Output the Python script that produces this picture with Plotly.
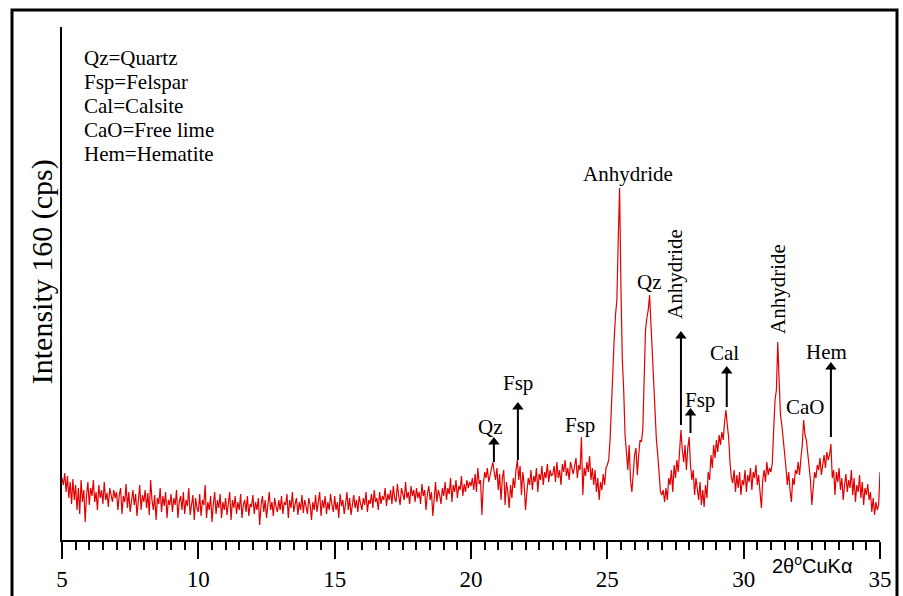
import numpy as np
import plotly.graph_objects as go

# 2-theta scan from 5 to 35 degrees, 0.05 degree step
start_2theta = 5.0
step_2theta = 0.05

# intensity (arbitrary units) per degree, 20 readings per degree
i05 = [62, 55, 67, 48, 64, 42, 58, 36, 61, 40, 55, 30, 52, 26, 60, 38, 50, 18, 45, 58]
i06 = [35, 52, 44, 60, 38, 48, 30, 55, 42, 50, 36, 58, 40, 47, 33, 52, 45, 38, 50, 42]
i07 = [48, 30, 45, 52, 26, 44, 38, 56, 32, 48, 28, 42, 50, 35, 46, 24, 40, 55, 30, 45]
i08 = [38, 50, 32, 47, 25, 60, 40, 30, 45, 20, 42, 36, 52, 28, 44, 34, 48, 22, 40, 35]
i09 = [46, 28, 42, 35, 50, 22, 38, 44, 30, 48, 26, 40, 34, 52, 25, 38, 45, 20, 42, 32]
i10 = [28, 46, 24, 40, 35, 55, 22, 38, 30, 44, 18, 36, 48, 26, 40, 32, 46, 22, 38, 30]
i11 = [42, 25, 36, 48, 20, 40, 32, 44, 26, 38, 30, 46, 22, 35, 40, 28, 44, 24, 36, 33]
i12 = [45, 26, 38, 30, 42, 15, 35, 44, 28, 40, 22, 36, 48, 30, 38, 24, 42, 33, 28, 40]
i13 = [30, 44, 26, 38, 35, 46, 22, 40, 32, 48, 28, 36, 42, 25, 38, 30, 45, 27, 40, 34]
i14 = [26, 42, 35, 20, 38, 30, 45, 28, 36, 48, 24, 40, 32, 44, 26, 38, 30, 46, 35, 28]
i15 = [44, 30, 38, 22, 46, 34, 40, 26, 36, 48, 30, 42, 25, 38, 45, 32, 40, 28, 44, 36]
i16 = [30, 42, 35, 48, 28, 40, 36, 46, 32, 50, 38, 42, 30, 48, 36, 44, 40, 52, 34, 46]
i17 = [40, 50, 36, 54, 42, 38, 56, 44, 35, 52, 46, 40, 58, 42, 48, 36, 54, 44, 50, 38]
i18 = [52, 42, 48, 36, 56, 44, 50, 30, 46, 54, 40, 48, 24, 44, 58, 38, 50, 45, 36, 52]
i19 = [44, 58, 40, 52, 46, 62, 38, 55, 48, 60, 42, 54, 50, 64, 44, 56, 48, 60, 52, 58]
i20 = [54, 62, 50, 66, 48, 72, 56, 60, 25, 55, 68, 62, 72, 58, 66, 70, 78, 68, 60, 72]
i21 = [50, 66, 40, 62, 70, 35, 58, 48, 32, 55, 42, 62, 52, 70, 80, 60, 74, 45, 68, 55]
i22 = [30, 48, 62, 55, 70, 50, 64, 58, 72, 48, 66, 60, 74, 55, 68, 62, 76, 58, 70, 64]
i23 = [66, 74, 58, 78, 62, 70, 55, 76, 68, 80, 64, 72, 60, 78, 70, 66, 74, 82, 62, 75]
i24 = [70, 103, 45, 72, 64, 78, 68, 84, 60, 72, 55, 70, 48, 62, 40, 58, 50, 66, 55, 72]
i25 = [75, 80, 100, 140, 165, 200, 225, 240, 300, 352, 250, 180, 150, 105, 88, 70, 95, 60, 48, 70]
i26 = [85, 92, 65, 85, 100, 98, 110, 160, 210, 222, 230, 245, 215, 190, 160, 127, 100, 85, 60, 48]
i27 = [45, 50, 38, 52, 40, 62, 55, 70, 48, 75, 62, 80, 68, 85, 110, 90, 78, 95, 70, 92]
i28 = [103, 75, 60, 70, 45, 62, 52, 40, 58, 35, 50, 33, 55, 42, 68, 60, 85, 72, 95, 82]
i29 = [100, 88, 105, 95, 108, 100, 118, 130, 115, 102, 77, 62, 57, 70, 48, 65, 52, 68, 45, 60]
i30 = [55, 70, 48, 65, 58, 72, 50, 68, 62, 75, 55, 65, 48, 32, 60, 70, 58, 78, 65, 72]
i31 = [68, 77, 110, 140, 150, 198, 160, 125, 115, 103, 85, 73, 55, 68, 50, 38, 62, 55, 70, 66]
i32 = [78, 65, 82, 95, 120, 105, 100, 85, 72, 60, 35, 55, 68, 62, 75, 70, 82, 65, 78, 85]
i33 = [72, 88, 80, 85, 96, 62, 70, 45, 68, 58, 72, 50, 62, 40, 55, 66, 48, 60, 52, 70]
i34 = [45, 62, 38, 55, 48, 65, 42, 58, 35, 52, 45, 56, 40, 48, 28, 42, 25, 38, 30, 35]
i35 = [68]

intensity = (i05 + i06 + i07 + i08 + i09 + i10 + i11 + i12 + i13 + i14 + i15 + i16
             + i17 + i18 + i19 + i20 + i21 + i22 + i23 + i24 + i25 + i26 + i27 + i28
             + i29 + i30 + i31 + i32 + i33 + i34 + i35)
two_theta = [round(start_2theta + k * step_2theta, 2) for k in range(len(intensity))]

# phase labels: text, 2theta, height, angle
label_text = ["Anhydride", "Qz", "Anhydride", "Fsp", "Cal", "Anhydride", "CaO", "Hem", "Qz", "Fsp", "Fsp"]
label_x = [25.76, 26.56, 27.48, 28.40, 29.28, 31.26, 32.25, 33.05, 20.70, 21.72, 24.0]
label_y = [366, 258, 266, 140, 187, 251, 133, 188, 113, 157, 115]
label_angle = [0, 0, -90, 0, 0, -90, 0, 0, 0, 0, 0]

# arrows: 2theta, tail height, tip height
arrow_x = [20.84, 21.72, 27.70, 28.05, 29.38, 33.20]
arrow_tail = [78, 80, 115, 107, 133, 103]
arrow_tip = [103, 138, 209, 132, 174, 178]

key_lines = ["Qz=Quartz", "Fsp=Felspar", "Cal=Calsite", "CaO=Free lime", "Hem=Hematite"]

x_ticks = [5, 10, 15, 20, 25, 30, 35]

SERIF = "Liberation Serif, Times New Roman, serif"
HEAD = 5  # half height of arrowhead marker (y units == px here)

fig = go.Figure()
fig.add_trace(go.Scatter(x=two_theta, y=intensity, mode="lines",
                         line=dict(color="rgb(226,0,0)", width=1.2),
                         showlegend=False, hoverinfo="skip"))

# arrow shafts
sx, sy = [], []
for x, t0, t1 in zip(arrow_x, arrow_tail, arrow_tip):
    sx += [x, x, None]
    sy += [t0, t1 - HEAD, None]
fig.add_trace(go.Scatter(x=sx, y=sy, mode="lines", line=dict(color="black", width=2),
                         showlegend=False, hoverinfo="skip"))
# arrowheads
fig.add_trace(go.Scatter(x=arrow_x, y=[t - HEAD for t in arrow_tip], mode="markers",
                         marker=dict(symbol="triangle-up", size=10, color="black",
                                     line=dict(width=0)),
                         showlegend=False, hoverinfo="skip"))

ann = []
for t, x, y, a in zip(label_text, label_x, label_y, label_angle):
    ann.append(dict(x=x, y=y, xref="x", yref="y", text=t, showarrow=False,
                    textangle=a, font=dict(family=SERIF, size=21, color="black"),
                    xanchor="center", yanchor="middle"))
for k, line in enumerate(key_lines):
    ann.append(dict(x=0.0244, y=(540 - (58 + 24 * k)) / 513, xref="paper", yref="paper",
                    text=line, showarrow=False, xanchor="left", yanchor="middle",
                    font=dict(family=SERIF, size=21, color="black")))
ann.append(dict(x=-0.0244, y=0.522, xref="paper", yref="paper",
                text="Intensity 160 (cps)", showarrow=False, textangle=-90,
                xanchor="center", yanchor="middle",
                font=dict(family=SERIF, size=30, color="black")))
ann.append(dict(x=0.917, y=-0.0487, xref="paper", yref="paper",
                text="2θ<sup>o</sup>CuKα", showarrow=False,
                xanchor="center", yanchor="middle",
                font=dict(family="Liberation Sans, Arial, sans-serif", size=20, color="black")))

fig.update_layout(
    width=903, height=596,
    margin=dict(l=62, r=23, t=27, b=56),
    paper_bgcolor="white", plot_bgcolor="white",
    annotations=ann,
    shapes=[dict(type="rect", xref="paper", yref="paper",
                 x0=(12 - 62) / 818, x1=(897 - 62) / 818,
                 y0=(540 - 620) / 513, y1=(540 - 10) / 513,
                 line=dict(color="black", width=3), fillcolor="rgba(0,0,0,0)", layer="below")],
    xaxis=dict(range=[5, 35], tickvals=x_ticks, ticktext=[str(v) for v in x_ticks],
               ticks="outside", ticklen=17, tickwidth=2, tickcolor="black",
               ticklabelstandoff=0, automargin=False,
               showline=True, linecolor="black", linewidth=2, showgrid=False, zeroline=False,
               tickfont=dict(family=SERIF, size=23, color="black"),
               minor=dict(dtick=0.5, tick0=5, ticks="outside", ticklen=8, tickwidth=2,
                          tickcolor="black", showgrid=False)),
    yaxis=dict(range=[0, 513], showline=True, linecolor="black", linewidth=2,
               showticklabels=False, ticks="", showgrid=False, zeroline=False,
               automargin=False),
)

fig.write_html("out.html")
